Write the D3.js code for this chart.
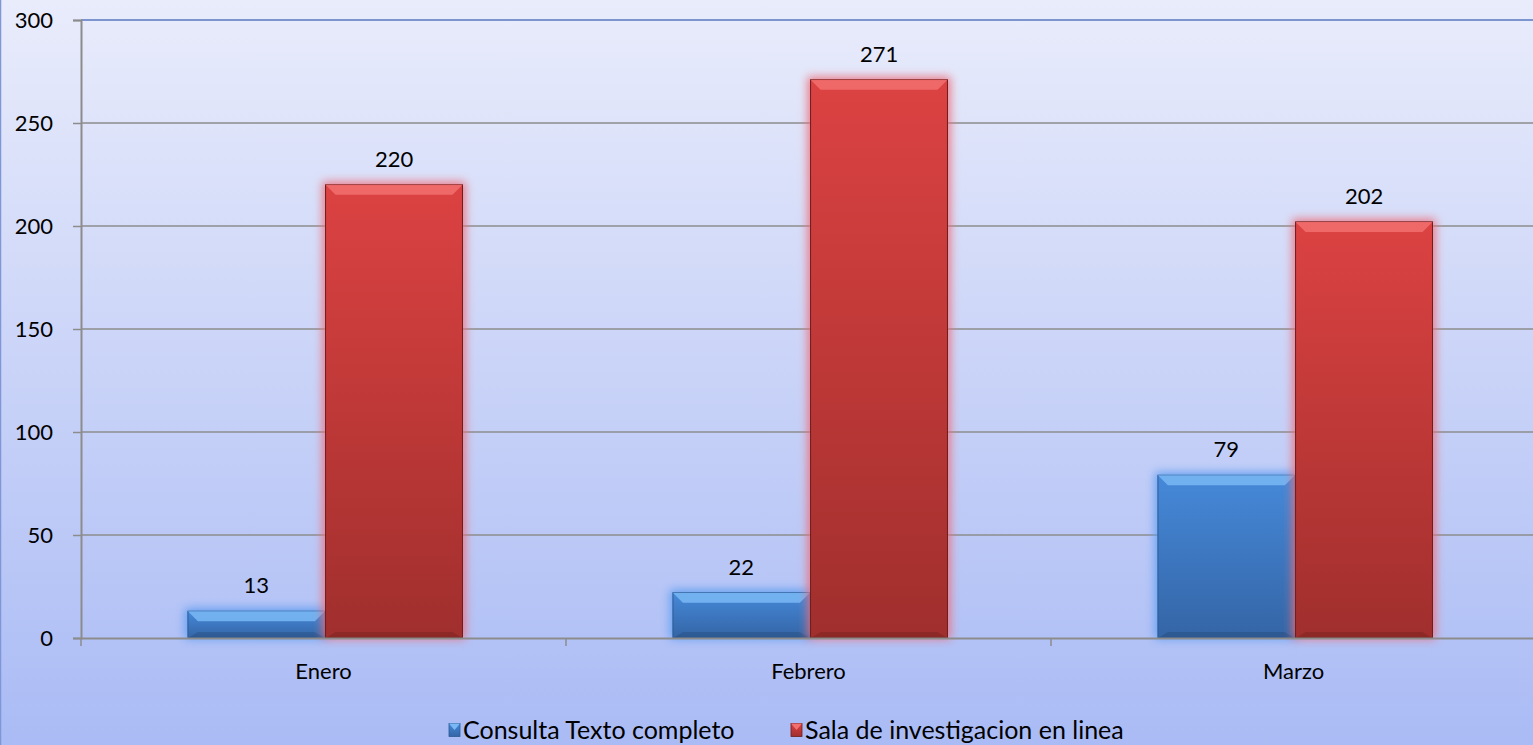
<!DOCTYPE html>
<meta charset="utf-8">
<style>
  body { margin: 0; overflow: hidden; }
  text { font-family: Lato, "Open Sans", sans-serif; fill: #000; }
  .axis .domain { stroke: #8c8c8c; stroke-width: 2; }
  .axis .tick line { stroke: #8c8c8c; stroke-width: 1.5; }
  .grid line { stroke: #8c8c8c; stroke-width: 1.5; }
</style>
<svg width="1533" height="745"></svg>
<script src="https://cdn.jsdelivr.net/npm/d3@7"></script>
<script>
  var months = ["Enero", "Febrero", "Marzo"];
  var seriesNames = ["Consulta Texto completo", "Sala de investigacion en linea"];
  var consulta = [13, 22, 79];
  var sala = [220, 271, 202];
  var yTicks = [0, 50, 100, 150, 200, 250, 300];

  var svg = d3.select("svg");
  var W = 1533, H = 745;
  var margin = { top: 20, right: -3, bottom: 107, left: 81 };
  var width = W - margin.left - margin.right;
  var height = H - margin.top - margin.bottom;

  var defs = svg.append("defs");
  var bg = defs.append("linearGradient").attr("id", "bg").attr("x1", 0).attr("y1", 0).attr("x2", 0).attr("y2", 1);
  bg.append("stop").attr("offset", "0%").attr("stop-color", "#e9ecfb");
  bg.append("stop").attr("offset", "100%").attr("stop-color", "#aabbf5");

  var colors = [
    { top: "#4689d9", bot: "#3465a6", bevel: "#7ab8f5", edge: "#2c5a96", glow: "#5b9cf0" },
    { top: "#dc4242", bot: "#a02f2d", bevel: "#f27070", edge: "#6e1e1c", glow: "#ec6f7c" }
  ];
  colors.forEach(function(c, i) {
    var g = defs.append("linearGradient").attr("id", "bar" + i).attr("x1", 0).attr("y1", 0).attr("x2", 0).attr("y2", 1);
    g.append("stop").attr("offset", "0%").attr("stop-color", c.top);
    g.append("stop").attr("offset", "100%").attr("stop-color", c.bot);
    var f = defs.append("filter").attr("id", "glow" + i)
      .attr("x", "-30%").attr("y", "-30%").attr("width", "160%").attr("height", "160%");
    f.append("feGaussianBlur").attr("stdDeviation", 5);
  });

  svg.append("rect").attr("width", W).attr("height", H).attr("fill", "url(#bg)");
  svg.append("line").attr("x1", 0.5).attr("x2", 0.5).attr("y1", 0).attr("y2", H)
    .attr("stroke", "#7f97d6").attr("stroke-width", 1.5);

  var g = svg.append("g").attr("transform", "translate(" + margin.left + "," + margin.top + ")");

  var x0 = d3.scaleBand().domain(months).range([0, width]).paddingInner(0).paddingOuter(0);
  var x1 = d3.scaleBand().domain([0, 1]).range([x0.bandwidth() * 0.219, x0.bandwidth() * 0.788]).padding(0.005);
  var y = d3.scaleLinear().domain([0, 300]).range([height, 0]);

  // grid
  g.append("g").attr("class", "grid")
    .selectAll("line").data(yTicks.filter(function(d) { return d > 0; }))
    .enter().append("line")
    .attr("x1", 0).attr("x2", width)
    .attr("y1", function(d) { return y(d); }).attr("y2", function(d) { return y(d); })
    .style("stroke", function(d) { return d === 300 ? "#5a78bf" : null; });

  var data = [consulta, sala];

  months.forEach(function(m, mi) {
    data.forEach(function(series, si) {
      var v = series[mi];
      var c = colors[si];
      var bx = x0(m) + x1(si);
      var bw = x1.bandwidth();
      var by = y(v);
      var bh = y(0) - y(v);
      var bar = g.append("g");
      bar.append("rect").attr("x", bx - 3).attr("y", by - 3).attr("width", bw + 6).attr("height", bh + 4)
        .attr("fill", c.glow).attr("opacity", 0.9).attr("filter", "url(#glow" + si + ")");
      bar.append("rect").attr("x", bx).attr("y", by).attr("width", bw).attr("height", bh)
        .attr("fill", "url(#bar" + si + ")").attr("stroke", c.edge).attr("stroke-width", 1);
      var bv = Math.min(10, bh / 2);
      bar.append("path")
        .attr("d", "M" + bx + "," + by + "L" + (bx + bw) + "," + by +
          "L" + (bx + bw - bv) + "," + (by + bv) + "L" + (bx + bv) + "," + (by + bv) + "Z")
        .attr("fill", c.bevel).attr("opacity", 0.85);
      bar.append("path")
        .attr("d", "M" + bx + "," + (by + bh) + "L" + (bx + bw) + "," + (by + bh) +
          "L" + (bx + bw - bv) + "," + (by + bh - bv * 0.6) + "L" + (bx + bv) + "," + (by + bh - bv * 0.6) + "Z")
        .attr("fill", "#000").attr("opacity", 0.12);
      g.append("text")
        .attr("x", bx + bw / 2).attr("y", by - 18)
        .attr("text-anchor", "middle").style("font-size", "22px")
        .text(v);
    });
  });

  // axes
  var yAxis = g.append("g").attr("class", "axis")
    .call(d3.axisLeft(y).tickValues(yTicks).tickSize(8).tickPadding(20));
  yAxis.selectAll("text").style("font-size", "22px").attr("dy", "0.35em");

  var xAxis = g.append("g").attr("class", "axis")
    .attr("transform", "translate(0," + height + ")")
    .call(d3.axisBottom(x0).tickSize(0).tickPadding(25));
  xAxis.selectAll("text").style("font-size", "22px");
  xAxis.selectAll(".bnd").data(d3.range(months.length + 1)).enter().append("line")
    .attr("x1", function(i) { return i * x0.step(); }).attr("x2", function(i) { return i * x0.step(); })
    .attr("y1", 0).attr("y2", 8).attr("stroke", "#8c8c8c").attr("stroke-width", 1.5);

  // legend
  var legend = svg.append("g").attr("transform", "translate(0,730)");
  var lx = [449, 791];
  seriesNames.forEach(function(name, i) {
    var c = colors[i];
    legend.append("rect").attr("x", lx[i]).attr("y", -6.5).attr("width", 11).attr("height", 13)
      .attr("fill", "url(#bar" + i + ")").attr("stroke", c.edge).attr("stroke-width", 0.8);
    legend.append("path")
      .attr("d", "M" + lx[i] + ",-6.5L" + (lx[i] + 11) + ",-6.5L" + (lx[i] + 5.5) + ",0Z")
      .attr("fill", c.bevel);
    legend.append("text").attr("x", lx[i] + 14).attr("y", 0).attr("dy", "0.35em")
      .style("font-size", "25px").text(name);
  });
</script>
